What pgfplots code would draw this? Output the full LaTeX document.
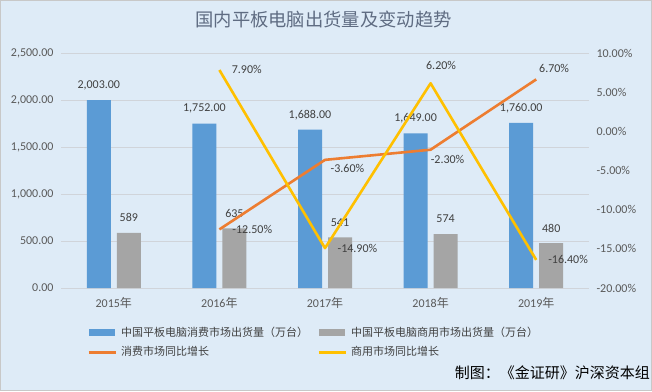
\documentclass[border=0pt]{standalone}
\usepackage{pgfplots}
\pgfplotsset{compat=1.18}
\usepackage{pgfplotstable}
\usepackage{fontspec}
\setmainfont{Carlito}
\newfontfamily\cjk{Noto Sans CJK SC}
\definecolor{bgblue}{RGB}{222,235,247}
\definecolor{cblue}{RGB}{91,155,213}
\definecolor{cgray}{RGB}{165,165,165}
\definecolor{corange}{RGB}{237,125,49}
\definecolor{cyellow}{RGB}{255,192,0}
\definecolor{gridc}{RGB}{208,212,218}
\definecolor{tickc}{RGB}{89,89,89}
\definecolor{labc}{RGB}{64,64,64}
\definecolor{titlec}{RGB}{95,108,130}
\definecolor{borderc}{RGB}{200,200,200}

\pgfplotsset{
  /pgf/number format/assume math mode=true,
  barleg/.style={legend image code/.code={\fill[#1] (0bp,-3.5bp) rectangle (26bp,3.5bp);}},
  lineleg/.style={legend image code/.code={\draw[#1, line width=3bp] (0bp,0bp) -- (27bp,0bp);}},
}

\pgfplotstableread{
x cons comm
0 2003 589
1 1752 635
2 1688 541
3 1649 574
4 1760 480
}\bars

\pgfplotstableread{
x y dx dy
1 -12.5 33 0
2 -3.6 22.5 -8.5
3 -2.3 17 -9.6
4 6.7 18 11
}\orangeT

\pgfplotstableread{
x y dx dy
1 7.9 27.5 0.7
2 -14.9 32.5 0
3 6.2 10.5 18
4 -16.4 32 0.5
}\yellowT

\begin{document}
\begin{tikzpicture}[x=1bp,y=1bp]
\fill[bgblue] (0,0) rectangle (652,391);
\draw[borderc, line width=0.8bp] (0.4,0.4) rectangle (651.6,390.6);
\path[use as bounding box] (0,0) rectangle (652,391);

\node[text=titlec, font=\cjk\fontsize{18.3bp}{20bp}\selectfont, inner sep=0pt] at (323.5,371) {国内平板电脑出货量及变动趋势};

\begin{axis}[
  at={(61bp,103bp)}, anchor=south west,
  width=528bp, height=234.4bp, scale only axis,
  xmin=-0.5, xmax=4.5, ymin=0, ymax=2500,
  axis y line*=left, axis x line*=bottom,
  axis line style={draw=none},
  major tick length=0pt,
  xtick={0,1,2,3,4},
  xticklabels={{2015{\cjk 年}},{2016{\cjk 年}},{2017{\cjk 年}},{2018{\cjk 年}},{2019{\cjk 年}}},
  ytick={0,500,1000,1500,2000,2500},
  yticklabel={\pgfmathprintnumber[fixed,fixed zerofill,precision=2,1000 sep={,}]{\tick}},
  tick label style={font=\fontsize{12bp}{14bp}\selectfont, text=tickc},
  yticklabel style={xshift=-4bp},
  xticklabel style={yshift=-6bp},
  ymajorgrids,
  grid style={draw=gridc, line width=0.8bp},
  ybar, bar width=24bp,
  clip=false,
  legend columns=2,
  legend cell align=left,
  legend style={
    at={(0.0492,-0.162)}, anchor=north west,
    draw=none, fill=none, inner sep=0pt,
    font=\cjk\fontsize{11bp}{13bp}\selectfont, text=labc,
    nodes={inner sep=1bp, text height=9bp, text depth=2bp},
    column sep=3bp, row sep=6.5bp,
    /tikz/every even column/.append style={column sep=8bp},
  },
]
\addplot[fill=cblue, draw=none, bar shift=-15bp, barleg=cblue,
  nodes near coords={\pgfmathprintnumber[fixed,fixed zerofill,precision=2,1000 sep={,}]{\pgfplotspointmeta}},
  nodes near coords style={anchor=center, yshift=15bp, font=\fontsize{12bp}{14bp}\selectfont, text=labc}]
  table[x=x, y=cons]{\bars};
\addlegendentry{中国平板电脑消费市场出货量（万台）}
\addplot[fill=cgray, draw=none, bar shift=15bp, barleg=cgray,
  nodes near coords={\pgfmathprintnumber[fixed,precision=0]{\pgfplotspointmeta}},
  nodes near coords style={anchor=center, yshift=15bp, font=\fontsize{12bp}{14bp}\selectfont, text=labc}]
  table[x=x, y=comm]{\bars};
\addlegendentry{中国平板电脑商用市场出货量（万台）}
\addlegendimage{lineleg=corange}
\addlegendentry{消费市场同比增长}
\addlegendimage{lineleg=cyellow}
\addlegendentry{商用市场同比增长}
\end{axis}

\begin{axis}[
  at={(61bp,103bp)}, anchor=south west,
  width=528bp, height=234.4bp, scale only axis,
  xmin=-0.5, xmax=4.5, ymin=-20, ymax=10,
  axis y line*=right, axis x line=none,
  axis line style={draw=none},
  major tick length=0pt,
  ytick={-20,-15,-10,-5,0,5,10},
  yticklabel={\pgfmathprintnumber[fixed,fixed zerofill,precision=2]{\tick}\%},
  tick label style={font=\fontsize{12bp}{14bp}\selectfont, text=tickc},
  yticklabel style={xshift=4bp},
  clip=false,
]
\addplot[corange, line width=2.6bp, line join=round, mark=none,
  visualization depends on={\thisrow{dx} \as \lx},
  visualization depends on={\thisrow{dy} \as \ly},
  nodes near coords={\pgfmathprintnumber[fixed,fixed zerofill,precision=2]{\pgfplotspointmeta}\%},
  nodes near coords style={anchor=center, xshift=\lx, yshift=\ly, font=\fontsize{12bp}{14bp}\selectfont, text=labc}]
  table[x=x, y=y]{\orangeT};
\addplot[cyellow, line width=2.6bp, line join=round, mark=none,
  visualization depends on={\thisrow{dx} \as \lx},
  visualization depends on={\thisrow{dy} \as \ly},
  nodes near coords={\pgfmathprintnumber[fixed,fixed zerofill,precision=2]{\pgfplotspointmeta}\%},
  nodes near coords style={anchor=center, xshift=\lx, yshift=\ly, font=\fontsize{12bp}{14bp}\selectfont, text=labc}]
  table[x=x, y=y]{\yellowT};
\end{axis}

\node[anchor=east, inner sep=0pt, font=\cjk\fontsize{15bp}{17bp}\selectfont, text=black] at (650,18) {制图：《金证研》沪深资本组};
\end{tikzpicture}
\end{document}
